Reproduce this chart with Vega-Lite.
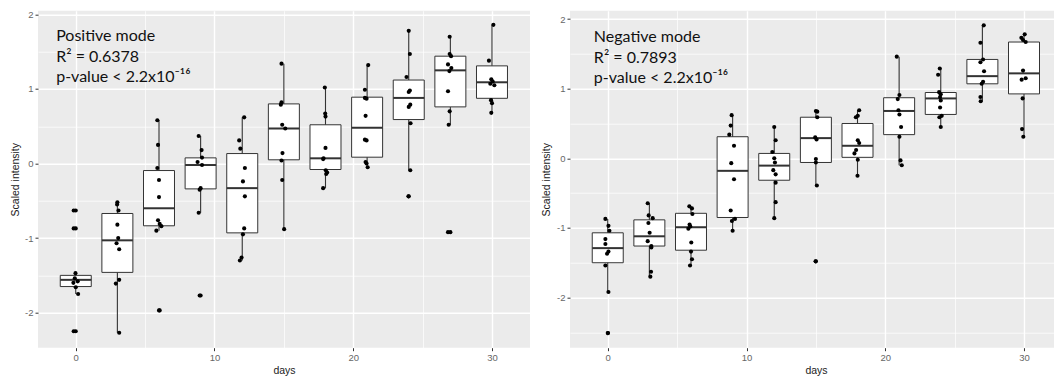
{
  "$schema": "https://vega.github.io/schema/vega-lite/v6.json",
  "padding": {"left": 10, "top": 8.7, "right": 0, "bottom": 0},
  "spacing": 12,
  "background": "white",
  "config": {
    "view": {"fill": "#EBEBEB", "stroke": null},
    "scale": {"continuousPadding": 0},
    "font": "Liberation Sans",
    "axis": {
      "domain": false,
      "gridColor": "white",
      "tickColor": "#333333",
      "tickSize": 3,
      "tickWidth": 1,
      "labelColor": "#666666",
      "labelFont": "Liberation Sans",
      "labelFontSize": 9.5,
      "labelPadding": 2,
      "labelOverlap": false,
      "labelFlush": false,
      "titleFont": "Liberation Sans",
      "titleFontSize": 10.5,
      "titleFontWeight": "normal",
      "titleColor": "#222222"
    },
    "axisY": {"minExtent": 14, "maxExtent": 14, "titlePadding": 4},
    "axisX": {"titlePadding": 3}
  },
  "datasets": {
    "box": [
      {"p": "L", "day": 0, "lo": -1.75, "q1": -1.65, "med": -1.56, "q3": -1.50, "hi": -1.47},
      {"p": "L", "day": 3, "lo": -2.27, "q1": -1.46, "med": -1.03, "q3": -0.67, "hi": -0.52},
      {"p": "L", "day": 6, "lo": -0.90, "q1": -0.835, "med": -0.60, "q3": -0.094, "hi": 0.58},
      {"p": "L", "day": 9, "lo": -0.66, "q1": -0.34, "med": -0.02, "q3": 0.076, "hi": 0.37},
      {"p": "L", "day": 12, "lo": -1.30, "q1": -0.93, "med": -0.33, "q3": 0.134, "hi": 0.62},
      {"p": "L", "day": 15, "lo": -0.88, "q1": 0.05, "med": 0.47, "q3": 0.80, "hi": 1.34},
      {"p": "L", "day": 18, "lo": -0.33, "q1": -0.08, "med": 0.07, "q3": 0.52, "hi": 1.02},
      {"p": "L", "day": 21, "lo": -0.05, "q1": 0.085, "med": 0.48, "q3": 0.89, "hi": 1.32},
      {"p": "L", "day": 24, "lo": -0.09, "q1": 0.59, "med": 0.88, "q3": 1.12, "hi": 1.78},
      {"p": "L", "day": 27, "lo": 0.52, "q1": 0.76, "med": 1.25, "q3": 1.44, "hi": 1.70},
      {"p": "L", "day": 30, "lo": 0.68, "q1": 0.875, "med": 1.09, "q3": 1.31, "hi": 1.86},
      {"p": "R", "day": 0, "lo": -1.92, "q1": -1.50, "med": -1.29, "q3": -1.07, "hi": -0.87},
      {"p": "R", "day": 3, "lo": -1.70, "q1": -1.26, "med": -1.12, "q3": -0.884, "hi": -0.645},
      {"p": "R", "day": 6, "lo": -1.54, "q1": -1.32, "med": -0.99, "q3": -0.79, "hi": -0.69},
      {"p": "R", "day": 9, "lo": -1.04, "q1": -0.85, "med": -0.18, "q3": 0.31, "hi": 0.62},
      {"p": "R", "day": 12, "lo": -0.86, "q1": -0.315, "med": -0.105, "q3": 0.07, "hi": 0.45},
      {"p": "R", "day": 15, "lo": -0.40, "q1": -0.06, "med": 0.29, "q3": 0.59, "hi": 0.68},
      {"p": "R", "day": 18, "lo": -0.25, "q1": 0.014, "med": 0.18, "q3": 0.50, "hi": 0.69},
      {"p": "R", "day": 21, "lo": -0.10, "q1": 0.34, "med": 0.68, "q3": 0.87, "hi": 1.46},
      {"p": "R", "day": 24, "lo": 0.45, "q1": 0.63, "med": 0.86, "q3": 0.945, "hi": 1.29},
      {"p": "R", "day": 27, "lo": 0.82, "q1": 1.07, "med": 1.18, "q3": 1.42, "hi": 1.91},
      {"p": "R", "day": 30, "lo": 0.31, "q1": 0.925, "med": 1.22, "q3": 1.67, "hi": 1.78}
    ],
    "out": [
      {"p": "L", "day": 0, "v": -0.63},
      {"p": "L", "day": 0, "v": -0.87},
      {"p": "L", "day": 0, "v": -2.25},
      {"p": "L", "day": 6, "v": -1.97},
      {"p": "L", "day": 9, "v": -1.77},
      {"p": "L", "day": 24, "v": -0.44},
      {"p": "L", "day": 27, "v": -0.92},
      {"p": "R", "day": 0, "v": -2.51},
      {"p": "R", "day": 15, "v": -1.48}
    ],
    "pts": [
      {"p": "L", "day": 0, "x": -0.15, "v": -0.63},
      {"p": "L", "day": 0, "x": -0.15, "v": -0.87},
      {"p": "L", "day": 0, "x": -0.02, "v": -1.47},
      {"p": "L", "day": 0, "x": -0.07, "v": -1.54},
      {"p": "L", "day": 0, "x": 0.14, "v": -1.58},
      {"p": "L", "day": 0, "x": -0.17, "v": -1.60},
      {"p": "L", "day": 0, "x": 0.0, "v": -1.66},
      {"p": "L", "day": 0, "x": 0.17, "v": -1.75},
      {"p": "L", "day": 0, "x": -0.15, "v": -2.25},
      {"p": "L", "day": 3, "x": 3.0, "v": -0.52},
      {"p": "L", "day": 3, "x": 2.98, "v": -0.55},
      {"p": "L", "day": 3, "x": 3.08, "v": -0.63},
      {"p": "L", "day": 3, "x": 3.0, "v": -0.82},
      {"p": "L", "day": 3, "x": 3.06, "v": -1.0},
      {"p": "L", "day": 3, "x": 2.94, "v": -1.07},
      {"p": "L", "day": 3, "x": 3.13, "v": -1.15},
      {"p": "L", "day": 3, "x": 3.13, "v": -1.56},
      {"p": "L", "day": 3, "x": 2.89, "v": -1.61},
      {"p": "L", "day": 3, "x": 3.13, "v": -2.27},
      {"p": "L", "day": 6, "x": 5.88, "v": 0.58},
      {"p": "L", "day": 6, "x": 5.93, "v": 0.25},
      {"p": "L", "day": 6, "x": 5.88, "v": -0.06},
      {"p": "L", "day": 6, "x": 6.0, "v": -0.22},
      {"p": "L", "day": 6, "x": 6.0, "v": -0.45},
      {"p": "L", "day": 6, "x": 5.93, "v": -0.76},
      {"p": "L", "day": 6, "x": 6.05, "v": -0.81},
      {"p": "L", "day": 6, "x": 6.17, "v": -0.84},
      {"p": "L", "day": 6, "x": 5.81, "v": -0.90},
      {"p": "L", "day": 6, "x": 6.05, "v": -1.97},
      {"p": "L", "day": 9, "x": 8.86, "v": 0.37},
      {"p": "L", "day": 9, "x": 9.07, "v": 0.18},
      {"p": "L", "day": 9, "x": 9.1, "v": 0.08},
      {"p": "L", "day": 9, "x": 8.78, "v": 0.02},
      {"p": "L", "day": 9, "x": 9.1, "v": -0.02},
      {"p": "L", "day": 9, "x": 9.0, "v": -0.33},
      {"p": "L", "day": 9, "x": 8.93, "v": -0.35},
      {"p": "L", "day": 9, "x": 8.86, "v": -0.66},
      {"p": "L", "day": 9, "x": 8.93, "v": -1.77},
      {"p": "L", "day": 12, "x": 12.14, "v": 0.62},
      {"p": "L", "day": 12, "x": 11.78, "v": 0.31},
      {"p": "L", "day": 12, "x": 11.86, "v": 0.20},
      {"p": "L", "day": 12, "x": 12.19, "v": -0.06},
      {"p": "L", "day": 12, "x": 12.05, "v": -0.24},
      {"p": "L", "day": 12, "x": 12.19, "v": -0.44},
      {"p": "L", "day": 12, "x": 12.14, "v": -0.87},
      {"p": "L", "day": 12, "x": 12.05, "v": -0.95},
      {"p": "L", "day": 12, "x": 11.95, "v": -1.26},
      {"p": "L", "day": 12, "x": 11.83, "v": -1.30},
      {"p": "L", "day": 15, "x": 14.83, "v": 1.34},
      {"p": "L", "day": 15, "x": 14.83, "v": 0.82},
      {"p": "L", "day": 15, "x": 14.78, "v": 0.79},
      {"p": "L", "day": 15, "x": 14.88, "v": 0.52},
      {"p": "L", "day": 15, "x": 15.1, "v": 0.47},
      {"p": "L", "day": 15, "x": 14.9, "v": 0.14},
      {"p": "L", "day": 15, "x": 14.83, "v": 0.04},
      {"p": "L", "day": 15, "x": 14.88, "v": -0.22},
      {"p": "L", "day": 15, "x": 15.02, "v": -0.88},
      {"p": "L", "day": 18, "x": 17.95, "v": 1.02},
      {"p": "L", "day": 18, "x": 17.98, "v": 0.67},
      {"p": "L", "day": 18, "x": 18.0, "v": 0.63},
      {"p": "L", "day": 18, "x": 18.0, "v": 0.21},
      {"p": "L", "day": 18, "x": 17.86, "v": 0.07},
      {"p": "L", "day": 18, "x": 17.83, "v": 0.06},
      {"p": "L", "day": 18, "x": 18.02, "v": -0.09},
      {"p": "L", "day": 18, "x": 18.12, "v": -0.12},
      {"p": "L", "day": 18, "x": 18.05, "v": -0.14},
      {"p": "L", "day": 18, "x": 17.83, "v": -0.33},
      {"p": "L", "day": 21, "x": 21.08, "v": 1.32},
      {"p": "L", "day": 21, "x": 20.84, "v": 0.99},
      {"p": "L", "day": 21, "x": 20.84, "v": 0.88},
      {"p": "L", "day": 21, "x": 20.96, "v": 0.87},
      {"p": "L", "day": 21, "x": 20.89, "v": 0.64},
      {"p": "L", "day": 21, "x": 20.84, "v": 0.32},
      {"p": "L", "day": 21, "x": 20.96, "v": 0.31},
      {"p": "L", "day": 21, "x": 20.89, "v": 0.02},
      {"p": "L", "day": 21, "x": 20.96, "v": 0.0},
      {"p": "L", "day": 21, "x": 21.04, "v": -0.05},
      {"p": "L", "day": 24, "x": 24.0, "v": 1.78},
      {"p": "L", "day": 24, "x": 24.08, "v": 1.47},
      {"p": "L", "day": 24, "x": 23.84, "v": 1.16},
      {"p": "L", "day": 24, "x": 24.08, "v": 0.98},
      {"p": "L", "day": 24, "x": 24.0, "v": 0.96},
      {"p": "L", "day": 24, "x": 24.11, "v": 0.79},
      {"p": "L", "day": 24, "x": 24.0, "v": 0.76},
      {"p": "L", "day": 24, "x": 24.13, "v": 0.54},
      {"p": "L", "day": 24, "x": 24.11, "v": -0.09},
      {"p": "L", "day": 24, "x": 23.98, "v": -0.44},
      {"p": "L", "day": 27, "x": 26.95, "v": 1.70},
      {"p": "L", "day": 27, "x": 26.95, "v": 1.47},
      {"p": "L", "day": 27, "x": 27.05, "v": 1.44},
      {"p": "L", "day": 27, "x": 26.83, "v": 1.33},
      {"p": "L", "day": 27, "x": 27.07, "v": 1.28},
      {"p": "L", "day": 27, "x": 26.93, "v": 1.24},
      {"p": "L", "day": 27, "x": 26.83, "v": 0.97},
      {"p": "L", "day": 27, "x": 26.95, "v": 0.70},
      {"p": "L", "day": 27, "x": 26.88, "v": 0.52},
      {"p": "L", "day": 27, "x": 26.83, "v": -0.92},
      {"p": "L", "day": 30, "x": 30.1, "v": 1.86},
      {"p": "L", "day": 30, "x": 29.78, "v": 1.38},
      {"p": "L", "day": 30, "x": 29.95, "v": 1.13},
      {"p": "L", "day": 30, "x": 30.05, "v": 1.10},
      {"p": "L", "day": 30, "x": 29.88, "v": 1.07},
      {"p": "L", "day": 30, "x": 30.17, "v": 1.05},
      {"p": "L", "day": 30, "x": 29.93, "v": 0.85},
      {"p": "L", "day": 30, "x": 30.0, "v": 0.81},
      {"p": "L", "day": 30, "x": 29.95, "v": 0.68},
      {"p": "R", "day": 0, "x": -0.17, "v": -0.87},
      {"p": "R", "day": 0, "x": 0.05, "v": -0.97},
      {"p": "R", "day": 0, "x": 0.12, "v": -1.04},
      {"p": "R", "day": 0, "x": -0.17, "v": -1.16},
      {"p": "R", "day": 0, "x": -0.17, "v": -1.23},
      {"p": "R", "day": 0, "x": 0.05, "v": -1.34},
      {"p": "R", "day": 0, "x": -0.05, "v": -1.37},
      {"p": "R", "day": 0, "x": -0.17, "v": -1.54},
      {"p": "R", "day": 0, "x": 0.05, "v": -1.92},
      {"p": "R", "day": 0, "x": 0.02, "v": -2.51},
      {"p": "R", "day": 3, "x": 2.88, "v": -0.645},
      {"p": "R", "day": 3, "x": 2.95, "v": -0.82},
      {"p": "R", "day": 3, "x": 3.24, "v": -0.86},
      {"p": "R", "day": 3, "x": 2.93, "v": -0.93},
      {"p": "R", "day": 3, "x": 3.02, "v": -1.07},
      {"p": "R", "day": 3, "x": 2.88, "v": -1.19},
      {"p": "R", "day": 3, "x": 3.14, "v": -1.26},
      {"p": "R", "day": 3, "x": 3.14, "v": -1.28},
      {"p": "R", "day": 3, "x": 3.12, "v": -1.63},
      {"p": "R", "day": 3, "x": 3.07, "v": -1.70},
      {"p": "R", "day": 6, "x": 5.88, "v": -0.69},
      {"p": "R", "day": 6, "x": 6.07, "v": -0.72},
      {"p": "R", "day": 6, "x": 6.1, "v": -0.80},
      {"p": "R", "day": 6, "x": 5.9, "v": -0.95},
      {"p": "R", "day": 6, "x": 5.95, "v": -0.98},
      {"p": "R", "day": 6, "x": 5.81, "v": -1.01},
      {"p": "R", "day": 6, "x": 6.02, "v": -1.21},
      {"p": "R", "day": 6, "x": 6.0, "v": -1.34},
      {"p": "R", "day": 6, "x": 6.07, "v": -1.45},
      {"p": "R", "day": 6, "x": 5.93, "v": -1.54},
      {"p": "R", "day": 9, "x": 8.93, "v": 0.62},
      {"p": "R", "day": 9, "x": 8.86, "v": 0.47},
      {"p": "R", "day": 9, "x": 8.76, "v": 0.34},
      {"p": "R", "day": 9, "x": 9.1, "v": 0.18},
      {"p": "R", "day": 9, "x": 8.9, "v": -0.07},
      {"p": "R", "day": 9, "x": 9.1, "v": -0.30},
      {"p": "R", "day": 9, "x": 8.86, "v": -0.75},
      {"p": "R", "day": 9, "x": 9.17, "v": -0.87},
      {"p": "R", "day": 9, "x": 8.95, "v": -0.90},
      {"p": "R", "day": 9, "x": 9.0, "v": -1.04},
      {"p": "R", "day": 12, "x": 12.0, "v": 0.45},
      {"p": "R", "day": 12, "x": 12.1, "v": 0.26},
      {"p": "R", "day": 12, "x": 11.86, "v": 0.09},
      {"p": "R", "day": 12, "x": 12.0, "v": 0.0},
      {"p": "R", "day": 12, "x": 12.05, "v": -0.06},
      {"p": "R", "day": 12, "x": 11.93, "v": -0.17},
      {"p": "R", "day": 12, "x": 12.1, "v": -0.23},
      {"p": "R", "day": 12, "x": 12.1, "v": -0.35},
      {"p": "R", "day": 12, "x": 12.1, "v": -0.63},
      {"p": "R", "day": 12, "x": 12.0, "v": -0.86},
      {"p": "R", "day": 15, "x": 15.0, "v": 0.68},
      {"p": "R", "day": 15, "x": 15.1, "v": 0.67},
      {"p": "R", "day": 15, "x": 15.1, "v": 0.59},
      {"p": "R", "day": 15, "x": 14.95, "v": 0.30},
      {"p": "R", "day": 15, "x": 15.05, "v": 0.27},
      {"p": "R", "day": 15, "x": 15.0, "v": -0.01},
      {"p": "R", "day": 15, "x": 15.0, "v": -0.06},
      {"p": "R", "day": 15, "x": 15.07, "v": -0.39},
      {"p": "R", "day": 15, "x": 14.98, "v": -1.48},
      {"p": "R", "day": 18, "x": 18.12, "v": 0.69},
      {"p": "R", "day": 18, "x": 18.02, "v": 0.61},
      {"p": "R", "day": 18, "x": 17.88, "v": 0.59},
      {"p": "R", "day": 18, "x": 18.02, "v": 0.26},
      {"p": "R", "day": 18, "x": 18.12, "v": 0.22},
      {"p": "R", "day": 18, "x": 17.9, "v": 0.12},
      {"p": "R", "day": 18, "x": 17.78, "v": 0.07},
      {"p": "R", "day": 18, "x": 18.02, "v": -0.02},
      {"p": "R", "day": 18, "x": 18.0, "v": -0.25},
      {"p": "R", "day": 21, "x": 20.83, "v": 1.46},
      {"p": "R", "day": 21, "x": 21.02, "v": 0.91},
      {"p": "R", "day": 21, "x": 20.9, "v": 0.85},
      {"p": "R", "day": 21, "x": 20.95, "v": 0.69},
      {"p": "R", "day": 21, "x": 21.02, "v": 0.63},
      {"p": "R", "day": 21, "x": 21.14, "v": 0.45},
      {"p": "R", "day": 21, "x": 21.02, "v": 0.31},
      {"p": "R", "day": 21, "x": 21.1, "v": -0.03},
      {"p": "R", "day": 21, "x": 21.19, "v": -0.10},
      {"p": "R", "day": 24, "x": 23.93, "v": 1.29},
      {"p": "R", "day": 24, "x": 23.81, "v": 1.20},
      {"p": "R", "day": 24, "x": 23.88, "v": 0.95},
      {"p": "R", "day": 24, "x": 24.0, "v": 0.92},
      {"p": "R", "day": 24, "x": 23.95, "v": 0.88},
      {"p": "R", "day": 24, "x": 24.0, "v": 0.83},
      {"p": "R", "day": 24, "x": 23.95, "v": 0.73},
      {"p": "R", "day": 24, "x": 24.07, "v": 0.61},
      {"p": "R", "day": 24, "x": 23.9, "v": 0.59},
      {"p": "R", "day": 24, "x": 24.0, "v": 0.45},
      {"p": "R", "day": 27, "x": 27.1, "v": 1.91},
      {"p": "R", "day": 27, "x": 26.86, "v": 1.66},
      {"p": "R", "day": 27, "x": 27.05, "v": 1.42},
      {"p": "R", "day": 27, "x": 26.86, "v": 1.38},
      {"p": "R", "day": 27, "x": 27.12, "v": 1.25},
      {"p": "R", "day": 27, "x": 27.05, "v": 1.10},
      {"p": "R", "day": 27, "x": 26.95, "v": 1.07},
      {"p": "R", "day": 27, "x": 26.86, "v": 0.88},
      {"p": "R", "day": 27, "x": 26.88, "v": 0.82},
      {"p": "R", "day": 30, "x": 30.05, "v": 1.78},
      {"p": "R", "day": 30, "x": 29.81, "v": 1.73},
      {"p": "R", "day": 30, "x": 29.93, "v": 1.70},
      {"p": "R", "day": 30, "x": 30.12, "v": 1.67},
      {"p": "R", "day": 30, "x": 29.93, "v": 1.26},
      {"p": "R", "day": 30, "x": 30.12, "v": 1.15},
      {"p": "R", "day": 30, "x": 29.83, "v": 1.13},
      {"p": "R", "day": 30, "x": 29.9, "v": 0.86},
      {"p": "R", "day": 30, "x": 29.86, "v": 0.42},
      {"p": "R", "day": 30, "x": 29.95, "v": 0.31}
    ],
    "ann": [
      {"p": "L", "x": -1.41, "y": 1.639, "t": "Positive mode"},
      {"p": "L", "x": -1.41, "y": 1.365, "t": "R² = 0.6378"},
      {"p": "L", "x": -1.41, "y": 1.090, "t": "p-value < 2.2x10⁻¹⁶"},
      {"p": "R", "x": -1.0, "y": 1.670, "t": "Negative mode"},
      {"p": "R", "x": -1.0, "y": 1.375, "t": "R² = 0.7893"},
      {"p": "R", "x": -1.0, "y": 1.079, "t": "p-value < 2.2x10⁻¹⁶"}
    ]
  },
  "hconcat": [
    {
      "width": 492,
      "height": 337,
      "layer": [
        {
          "data": {"name": "box"},
          "transform": [{"filter": "datum.p === 'L'"}],
          "mark": {"type": "rule", "color": "#333333", "strokeWidth": 1.1},
          "encoding": {
            "x": {"field": "day", "type": "quantitative", "scale": {"domain": [-2.72, 32.74], "nice": false, "zero": false, "padding": 0},
              "axis": {"title": "days", "values": [0, 5, 10, 15, 20, 25, 30],
                "labelExpr": "datum.value % 10 === 0 ? toString(datum.value) : ''",
                "tickOpacity": {"condition": {"test": "datum.value % 10 === 0", "value": 1}, "value": 0},
                "gridWidth": {"condition": {"test": "datum.value % 10 === 0", "value": 1.4}, "value": 0.7}}},
            "y": {"field": "lo", "type": "quantitative", "scale": {"domain": [-2.47, 2.05], "nice": false, "zero": false, "padding": 0},
              "axis": {"title": "Scaled intensity", "values": [-2, -1.5, -1, -0.5, 0, 0.5, 1, 1.5, 2],
                "labelExpr": "datum.value % 1 === 0 ? toString(datum.value) : ''",
                "tickOpacity": {"condition": {"test": "datum.value % 1 === 0", "value": 1}, "value": 0},
                "gridWidth": {"condition": {"test": "datum.value % 1 === 0", "value": 1.4}, "value": 0.7}}},
            "y2": {"field": "hi"}
          }
        },
        {
          "data": {"name": "box"},
          "transform": [{"filter": "datum.p === 'L'"}],
          "mark": {"type": "bar", "orient": "vertical", "size": 31, "fill": "white", "stroke": "#333333", "strokeWidth": 1},
          "encoding": {
            "x": {"field": "day", "type": "quantitative", "scale": {"domain": [-2.72, 32.74], "nice": false, "zero": false, "padding": 0},
              "axis": {"title": "days", "values": [0, 5, 10, 15, 20, 25, 30],
                "labelExpr": "datum.value % 10 === 0 ? toString(datum.value) : ''",
                "tickOpacity": {"condition": {"test": "datum.value % 10 === 0", "value": 1}, "value": 0},
                "gridWidth": {"condition": {"test": "datum.value % 10 === 0", "value": 1.4}, "value": 0.7}}},
            "y": {"field": "q1", "type": "quantitative", "scale": {"domain": [-2.47, 2.05], "nice": false, "zero": false, "padding": 0},
              "axis": {"title": "Scaled intensity", "values": [-2, -1.5, -1, -0.5, 0, 0.5, 1, 1.5, 2],
                "labelExpr": "datum.value % 1 === 0 ? toString(datum.value) : ''",
                "tickOpacity": {"condition": {"test": "datum.value % 1 === 0", "value": 1}, "value": 0},
                "gridWidth": {"condition": {"test": "datum.value % 1 === 0", "value": 1.4}, "value": 0.7}}},
            "y2": {"field": "q3"}
          }
        },
        {
          "data": {"name": "box"},
          "transform": [{"filter": "datum.p === 'L'"}],
          "mark": {"type": "tick", "orient": "horizontal", "size": 31, "thickness": 2, "color": "#333333", "opacity": 1},
          "encoding": {
            "x": {"field": "day", "type": "quantitative", "scale": {"domain": [-2.72, 32.74], "nice": false, "zero": false, "padding": 0},
              "axis": {"title": "days", "values": [0, 5, 10, 15, 20, 25, 30],
                "labelExpr": "datum.value % 10 === 0 ? toString(datum.value) : ''",
                "tickOpacity": {"condition": {"test": "datum.value % 10 === 0", "value": 1}, "value": 0},
                "gridWidth": {"condition": {"test": "datum.value % 10 === 0", "value": 1.4}, "value": 0.7}}},
            "y": {"field": "med", "type": "quantitative", "scale": {"domain": [-2.47, 2.05], "nice": false, "zero": false, "padding": 0},
              "axis": {"title": "Scaled intensity", "values": [-2, -1.5, -1, -0.5, 0, 0.5, 1, 1.5, 2],
                "labelExpr": "datum.value % 1 === 0 ? toString(datum.value) : ''",
                "tickOpacity": {"condition": {"test": "datum.value % 1 === 0", "value": 1}, "value": 0},
                "gridWidth": {"condition": {"test": "datum.value % 1 === 0", "value": 1.4}, "value": 0.7}}}
          }
        },
        {
          "data": {"name": "out"},
          "transform": [{"filter": "datum.p === 'L'"}],
          "mark": {"type": "circle", "size": 17, "color": "black", "opacity": 1},
          "encoding": {
            "x": {"field": "day", "type": "quantitative", "scale": {"domain": [-2.72, 32.74], "nice": false, "zero": false, "padding": 0},
              "axis": {"title": "days", "values": [0, 5, 10, 15, 20, 25, 30],
                "labelExpr": "datum.value % 10 === 0 ? toString(datum.value) : ''",
                "tickOpacity": {"condition": {"test": "datum.value % 10 === 0", "value": 1}, "value": 0},
                "gridWidth": {"condition": {"test": "datum.value % 10 === 0", "value": 1.4}, "value": 0.7}}},
            "y": {"field": "v", "type": "quantitative", "scale": {"domain": [-2.47, 2.05], "nice": false, "zero": false, "padding": 0},
              "axis": {"title": "Scaled intensity", "values": [-2, -1.5, -1, -0.5, 0, 0.5, 1, 1.5, 2],
                "labelExpr": "datum.value % 1 === 0 ? toString(datum.value) : ''",
                "tickOpacity": {"condition": {"test": "datum.value % 1 === 0", "value": 1}, "value": 0},
                "gridWidth": {"condition": {"test": "datum.value % 1 === 0", "value": 1.4}, "value": 0.7}}}
          }
        },
        {
          "data": {"name": "pts"},
          "transform": [{"filter": "datum.p === 'L'"}],
          "mark": {"type": "circle", "size": 17, "color": "black", "opacity": 1},
          "encoding": {
            "x": {"field": "x", "type": "quantitative", "scale": {"domain": [-2.72, 32.74], "nice": false, "zero": false, "padding": 0},
              "axis": {"title": "days", "values": [0, 5, 10, 15, 20, 25, 30],
                "labelExpr": "datum.value % 10 === 0 ? toString(datum.value) : ''",
                "tickOpacity": {"condition": {"test": "datum.value % 10 === 0", "value": 1}, "value": 0},
                "gridWidth": {"condition": {"test": "datum.value % 10 === 0", "value": 1.4}, "value": 0.7}}},
            "y": {"field": "v", "type": "quantitative", "scale": {"domain": [-2.47, 2.05], "nice": false, "zero": false, "padding": 0},
              "axis": {"title": "Scaled intensity", "values": [-2, -1.5, -1, -0.5, 0, 0.5, 1, 1.5, 2],
                "labelExpr": "datum.value % 1 === 0 ? toString(datum.value) : ''",
                "tickOpacity": {"condition": {"test": "datum.value % 1 === 0", "value": 1}, "value": 0},
                "gridWidth": {"condition": {"test": "datum.value % 1 === 0", "value": 1.4}, "value": 0.7}}}
          }
        },
        {
          "data": {"name": "ann"},
          "transform": [{"filter": "datum.p === 'L'"}],
          "mark": {"type": "text", "align": "left", "baseline": "alphabetic", "font": "Lato", "fontSize": 16, "color": "#111111"},
          "encoding": {
            "x": {"field": "x", "type": "quantitative", "scale": {"domain": [-2.72, 32.74], "nice": false, "zero": false, "padding": 0},
              "axis": {"title": "days", "values": [0, 5, 10, 15, 20, 25, 30],
                "labelExpr": "datum.value % 10 === 0 ? toString(datum.value) : ''",
                "tickOpacity": {"condition": {"test": "datum.value % 10 === 0", "value": 1}, "value": 0},
                "gridWidth": {"condition": {"test": "datum.value % 10 === 0", "value": 1.4}, "value": 0.7}}},
            "y": {"field": "y", "type": "quantitative", "scale": {"domain": [-2.47, 2.05], "nice": false, "zero": false, "padding": 0},
              "axis": {"title": "Scaled intensity", "values": [-2, -1.5, -1, -0.5, 0, 0.5, 1, 1.5, 2],
                "labelExpr": "datum.value % 1 === 0 ? toString(datum.value) : ''",
                "tickOpacity": {"condition": {"test": "datum.value % 1 === 0", "value": 1}, "value": 0},
                "gridWidth": {"condition": {"test": "datum.value % 1 === 0", "value": 1.4}, "value": 0.7}}},
            "text": {"field": "t"}
          }
        }
      ]
    },
    {
      "width": 484,
      "height": 337,
      "layer": [
        {
          "data": {"name": "box"},
          "transform": [{"filter": "datum.p === 'R'"}],
          "mark": {"type": "rule", "color": "#333333", "strokeWidth": 1.1},
          "encoding": {
            "x": {"field": "day", "type": "quantitative", "scale": {"domain": [-2.72, 32.16], "nice": false, "zero": false, "padding": 0},
              "axis": {"title": "days", "titleX": 246, "values": [0, 5, 10, 15, 20, 25, 30],
                "labelExpr": "datum.value % 10 === 0 ? toString(datum.value) : ''",
                "tickOpacity": {"condition": {"test": "datum.value % 10 === 0", "value": 1}, "value": 0},
                "gridWidth": {"condition": {"test": "datum.value % 10 === 0", "value": 1.4}, "value": 0.7}}},
            "y": {"field": "lo", "type": "quantitative", "scale": {"domain": [-2.72, 2.12], "nice": false, "zero": false, "padding": 0},
              "axis": {"title": "Scaled intensity", "values": [-2.5, -2, -1.5, -1, -0.5, 0, 0.5, 1, 1.5, 2],
                "labelExpr": "datum.value % 1 === 0 ? toString(datum.value) : ''",
                "tickOpacity": {"condition": {"test": "datum.value % 1 === 0", "value": 1}, "value": 0},
                "gridWidth": {"condition": {"test": "datum.value % 1 === 0", "value": 1.4}, "value": 0.7}}},
            "y2": {"field": "hi"}
          }
        },
        {
          "data": {"name": "box"},
          "transform": [{"filter": "datum.p === 'R'"}],
          "mark": {"type": "bar", "orient": "vertical", "size": 31, "fill": "white", "stroke": "#333333", "strokeWidth": 1},
          "encoding": {
            "x": {"field": "day", "type": "quantitative", "scale": {"domain": [-2.72, 32.16], "nice": false, "zero": false, "padding": 0},
              "axis": {"title": "days", "titleX": 246, "values": [0, 5, 10, 15, 20, 25, 30],
                "labelExpr": "datum.value % 10 === 0 ? toString(datum.value) : ''",
                "tickOpacity": {"condition": {"test": "datum.value % 10 === 0", "value": 1}, "value": 0},
                "gridWidth": {"condition": {"test": "datum.value % 10 === 0", "value": 1.4}, "value": 0.7}}},
            "y": {"field": "q1", "type": "quantitative", "scale": {"domain": [-2.72, 2.12], "nice": false, "zero": false, "padding": 0},
              "axis": {"title": "Scaled intensity", "values": [-2.5, -2, -1.5, -1, -0.5, 0, 0.5, 1, 1.5, 2],
                "labelExpr": "datum.value % 1 === 0 ? toString(datum.value) : ''",
                "tickOpacity": {"condition": {"test": "datum.value % 1 === 0", "value": 1}, "value": 0},
                "gridWidth": {"condition": {"test": "datum.value % 1 === 0", "value": 1.4}, "value": 0.7}}},
            "y2": {"field": "q3"}
          }
        },
        {
          "data": {"name": "box"},
          "transform": [{"filter": "datum.p === 'R'"}],
          "mark": {"type": "tick", "orient": "horizontal", "size": 31, "thickness": 2, "color": "#333333", "opacity": 1},
          "encoding": {
            "x": {"field": "day", "type": "quantitative", "scale": {"domain": [-2.72, 32.16], "nice": false, "zero": false, "padding": 0},
              "axis": {"title": "days", "titleX": 246, "values": [0, 5, 10, 15, 20, 25, 30],
                "labelExpr": "datum.value % 10 === 0 ? toString(datum.value) : ''",
                "tickOpacity": {"condition": {"test": "datum.value % 10 === 0", "value": 1}, "value": 0},
                "gridWidth": {"condition": {"test": "datum.value % 10 === 0", "value": 1.4}, "value": 0.7}}},
            "y": {"field": "med", "type": "quantitative", "scale": {"domain": [-2.72, 2.12], "nice": false, "zero": false, "padding": 0},
              "axis": {"title": "Scaled intensity", "values": [-2.5, -2, -1.5, -1, -0.5, 0, 0.5, 1, 1.5, 2],
                "labelExpr": "datum.value % 1 === 0 ? toString(datum.value) : ''",
                "tickOpacity": {"condition": {"test": "datum.value % 1 === 0", "value": 1}, "value": 0},
                "gridWidth": {"condition": {"test": "datum.value % 1 === 0", "value": 1.4}, "value": 0.7}}}
          }
        },
        {
          "data": {"name": "out"},
          "transform": [{"filter": "datum.p === 'R'"}],
          "mark": {"type": "circle", "size": 17, "color": "black", "opacity": 1},
          "encoding": {
            "x": {"field": "day", "type": "quantitative", "scale": {"domain": [-2.72, 32.16], "nice": false, "zero": false, "padding": 0},
              "axis": {"title": "days", "titleX": 246, "values": [0, 5, 10, 15, 20, 25, 30],
                "labelExpr": "datum.value % 10 === 0 ? toString(datum.value) : ''",
                "tickOpacity": {"condition": {"test": "datum.value % 10 === 0", "value": 1}, "value": 0},
                "gridWidth": {"condition": {"test": "datum.value % 10 === 0", "value": 1.4}, "value": 0.7}}},
            "y": {"field": "v", "type": "quantitative", "scale": {"domain": [-2.72, 2.12], "nice": false, "zero": false, "padding": 0},
              "axis": {"title": "Scaled intensity", "values": [-2.5, -2, -1.5, -1, -0.5, 0, 0.5, 1, 1.5, 2],
                "labelExpr": "datum.value % 1 === 0 ? toString(datum.value) : ''",
                "tickOpacity": {"condition": {"test": "datum.value % 1 === 0", "value": 1}, "value": 0},
                "gridWidth": {"condition": {"test": "datum.value % 1 === 0", "value": 1.4}, "value": 0.7}}}
          }
        },
        {
          "data": {"name": "pts"},
          "transform": [{"filter": "datum.p === 'R'"}],
          "mark": {"type": "circle", "size": 17, "color": "black", "opacity": 1},
          "encoding": {
            "x": {"field": "x", "type": "quantitative", "scale": {"domain": [-2.72, 32.16], "nice": false, "zero": false, "padding": 0},
              "axis": {"title": "days", "titleX": 246, "values": [0, 5, 10, 15, 20, 25, 30],
                "labelExpr": "datum.value % 10 === 0 ? toString(datum.value) : ''",
                "tickOpacity": {"condition": {"test": "datum.value % 10 === 0", "value": 1}, "value": 0},
                "gridWidth": {"condition": {"test": "datum.value % 10 === 0", "value": 1.4}, "value": 0.7}}},
            "y": {"field": "v", "type": "quantitative", "scale": {"domain": [-2.72, 2.12], "nice": false, "zero": false, "padding": 0},
              "axis": {"title": "Scaled intensity", "values": [-2.5, -2, -1.5, -1, -0.5, 0, 0.5, 1, 1.5, 2],
                "labelExpr": "datum.value % 1 === 0 ? toString(datum.value) : ''",
                "tickOpacity": {"condition": {"test": "datum.value % 1 === 0", "value": 1}, "value": 0},
                "gridWidth": {"condition": {"test": "datum.value % 1 === 0", "value": 1.4}, "value": 0.7}}}
          }
        },
        {
          "data": {"name": "ann"},
          "transform": [{"filter": "datum.p === 'R'"}],
          "mark": {"type": "text", "align": "left", "baseline": "alphabetic", "font": "Lato", "fontSize": 16, "color": "#111111"},
          "encoding": {
            "x": {"field": "x", "type": "quantitative", "scale": {"domain": [-2.72, 32.16], "nice": false, "zero": false, "padding": 0},
              "axis": {"title": "days", "titleX": 246, "values": [0, 5, 10, 15, 20, 25, 30],
                "labelExpr": "datum.value % 10 === 0 ? toString(datum.value) : ''",
                "tickOpacity": {"condition": {"test": "datum.value % 10 === 0", "value": 1}, "value": 0},
                "gridWidth": {"condition": {"test": "datum.value % 10 === 0", "value": 1.4}, "value": 0.7}}},
            "y": {"field": "y", "type": "quantitative", "scale": {"domain": [-2.72, 2.12], "nice": false, "zero": false, "padding": 0},
              "axis": {"title": "Scaled intensity", "values": [-2.5, -2, -1.5, -1, -0.5, 0, 0.5, 1, 1.5, 2],
                "labelExpr": "datum.value % 1 === 0 ? toString(datum.value) : ''",
                "tickOpacity": {"condition": {"test": "datum.value % 1 === 0", "value": 1}, "value": 0},
                "gridWidth": {"condition": {"test": "datum.value % 1 === 0", "value": 1.4}, "value": 0.7}}},
            "text": {"field": "t"}
          }
        }
      ]
    }
  ]
}
